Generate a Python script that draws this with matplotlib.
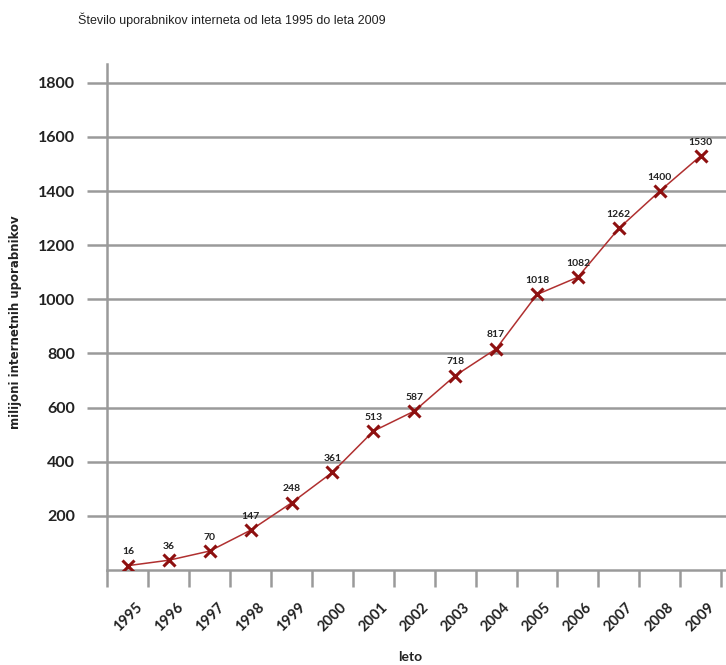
"""Line chart: internet users worldwide, 1995-2009."""

import matplotlib
matplotlib.use("Agg")
import matplotlib.pyplot as plt
import numpy as np

years = ["1995", "1996", "1997", "1998", "1999", "2000", "2001", "2002",
         "2003", "2004", "2005", "2006", "2007", "2008", "2009"]
users = [16, 36, 70, 147, 248, 361, 513, 587, 718, 817, 1018, 1082, 1262, 1400, 1530]
y_ticks = [200, 400, 600, 800, 1000, 1200, 1400, 1600, 1800]

title = "Število uporabnikov interneta od leta 1995 do leta 2009"
ylabel = "milijoni internetnih uporabnikov"
xlabel = "leto"

GRID = "#9a9a9a"
LINE = "#b03030"
MARK = "#8e1010"
TXT = "#222222"
FONT = ["Lato", "DejaVu Sans"]

fig = plt.figure(figsize=(7.26, 6.65), dpi=100, facecolor="white")
ax = fig.add_axes([0.148, 0.1429, 0.852, 0.761])

x = np.arange(len(years))
ax.plot(x, users, color=LINE, lw=1.1, zorder=3)
ax.plot(x, users, ls="none", marker="x", ms=8, mew=2.2, color=MARK, zorder=4)

for xi, v in zip(x, users):
    ax.annotate(str(v), (xi, v), xytext=(0, 10), textcoords="offset points",
                ha="center", va="center", fontsize=7.5, family=FONT,
                fontweight="bold", color=TXT)

ax.set_xlim(-0.5, 14.62)
ax.set_ylim(0, 1870)

# horizontal grid lines
for t in y_ticks:
    ax.axhline(t, color=GRID, lw=1.8, zorder=1)

ax.set_yticks(y_ticks)
ax.set_yticklabels([str(t) for t in y_ticks], family=FONT, fontweight="bold",
                   fontsize=11.5, color=TXT)
ax.tick_params(axis="y", length=14.5, width=1.8, color=GRID, pad=9)

# category boundaries as ticks, year labels on minor ticks
ax.set_xticks(np.arange(len(years) + 1) - 0.5)
ax.set_xticklabels([])
ax.tick_params(axis="x", which="major", length=12, width=1.8, color=GRID)
ax.set_xticks(x, minor=True)
ax.set_xticklabels(years, minor=True, rotation=45, ha="center",
                   family=FONT, fontweight="bold", fontsize=10.5, color=TXT)
ax.tick_params(axis="x", which="minor", length=0, pad=22)

for side in ["top", "right"]:
    ax.spines[side].set_visible(False)
for side in ["left", "bottom"]:
    ax.spines[side].set_color(GRID)
    ax.spines[side].set_linewidth(1.8)

ax.set_ylabel(ylabel, family=["DejaVu Sans"], fontweight="bold", fontsize=8.5,
              color=TXT)
ax.yaxis.set_label_coords(-0.138, 0.49)

fig.text(410 / 726, 1 - 657 / 665, xlabel, ha="center", va="center",
         family=FONT, fontweight="bold", fontsize=10, color=TXT)
fig.text(78 / 726, 1 - 20 / 665, title, ha="left", va="center",
         family="Liberation Sans", fontsize=9, color=TXT)

fig.savefig("out.png", dpi=100, facecolor="white")
